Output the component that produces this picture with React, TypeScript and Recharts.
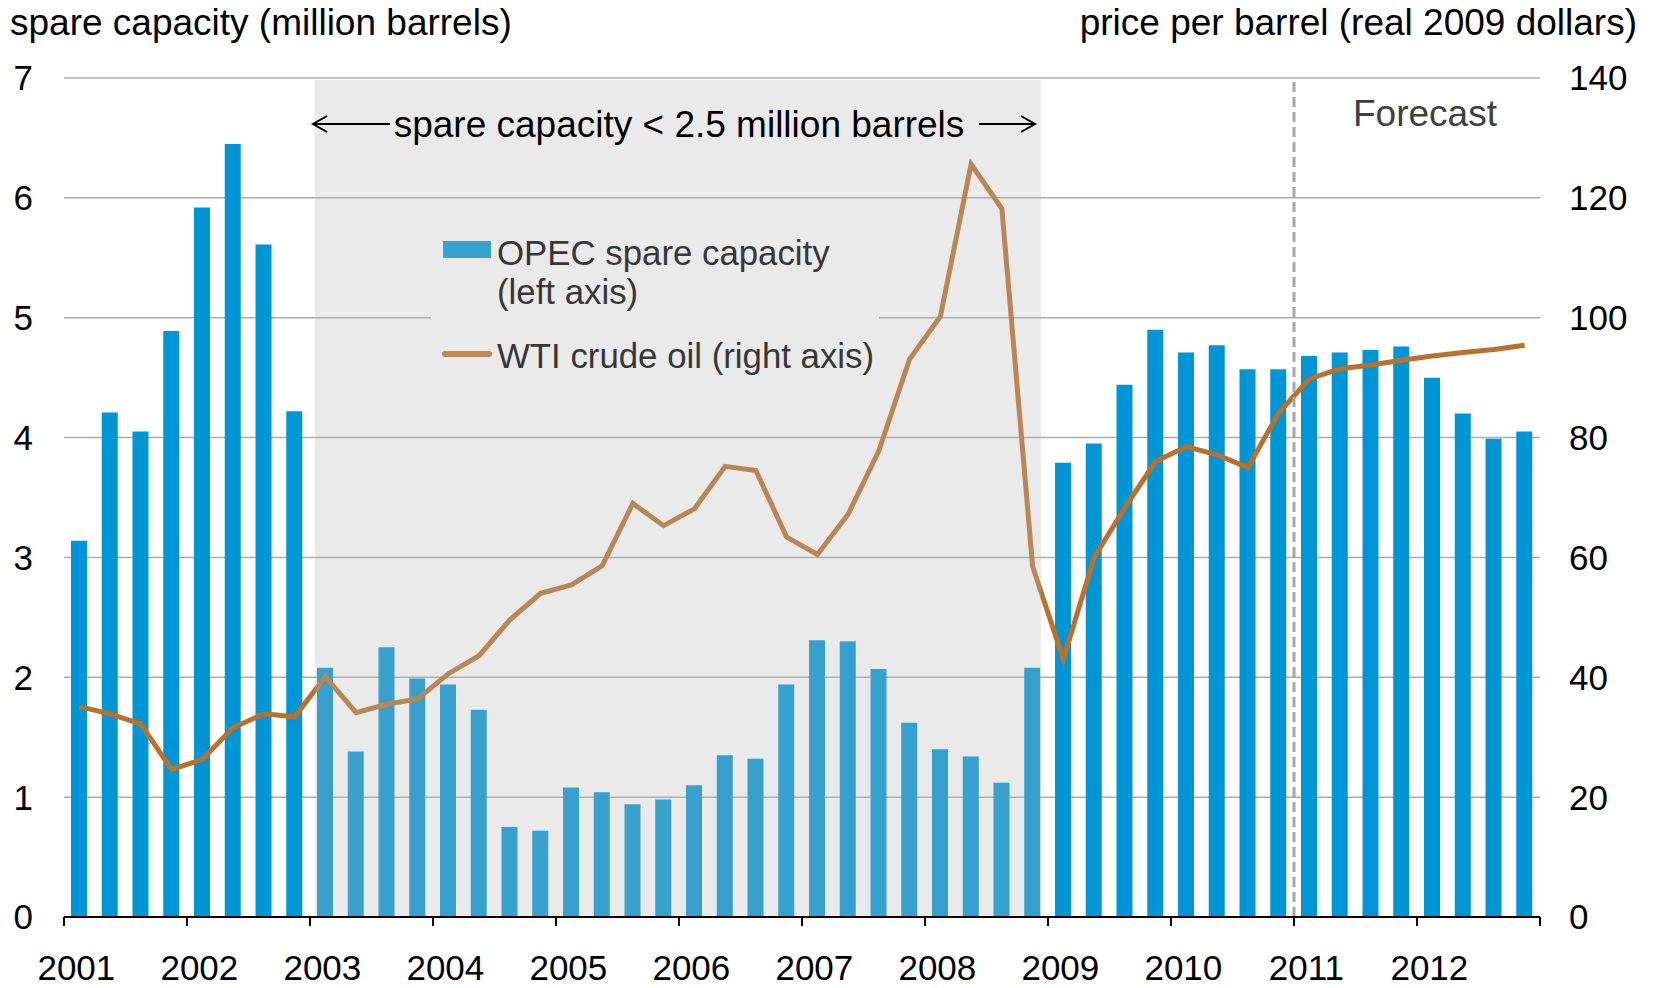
import {
  ComposedChart,
  Bar,
  Line,
  XAxis,
  YAxis,
  CartesianGrid,
  ReferenceArea,
  ReferenceLine,
  Legend,
} from 'recharts';

const years = ['2001', '2002', '2003', '2004', '2005', '2006', '2007', '2008', '2009', '2010', '2011', '2012'];
const quarters = years.flatMap((y) => ['Q1', 'Q2', 'Q3', 'Q4'].map((q) => y + q));

// OPEC spare capacity, million barrels (left axis)
const spareCapacity = [
  3.14, 4.21, 4.05, 4.89, 5.92, 6.45, 5.61, 4.22,
  2.08, 1.38, 2.25, 1.99, 1.94, 1.73, 0.75, 0.72,
  1.08, 1.04, 0.94, 0.98, 1.1, 1.35, 1.32, 1.94,
  2.31, 2.3, 2.07, 1.62, 1.4, 1.34, 1.12, 2.08,
  3.79, 3.95, 4.44, 4.9, 4.71, 4.77, 4.57, 4.57,
  4.68, 4.71, 4.73, 4.76, 4.5, 4.2, 3.99, 4.05,
];

// WTI crude oil, real 2009 dollars per barrel (right axis)
const wtiPrice = [
  35.1, 33.9, 32.2, 24.6, 26.3, 31.6, 33.9, 33.4,
  40.1, 34.1, 35.5, 36.4, 40.6, 43.6, 49.6, 54.0,
  55.4, 58.6, 69.0, 65.3, 68.1, 75.2, 74.5, 63.4,
  60.5, 67.2, 77.8, 93.1, 100.2, 125.6, 118.2, 58.5,
  43.0, 60.0, 68.3, 76.0, 78.5, 77.1, 75.0, 84.1,
  89.8, 91.5, 92.1, 92.9, 93.6, 94.2, 94.7, 95.4,
];

const leftTicks = [0, 1, 2, 3, 4, 5, 6, 7];
const rightTicks = [0, 20, 40, 60, 80, 100, 120, 140];
const yearTicks = years.map((y) => y + 'Q1');

const shadeStart = '2003Q1';
const shadeEnd = '2008Q4';
const forecastStart = '2011Q1';

const data = quarters.map((q, i) => ({ q, spare: spareCapacity[i], wti: wtiPrice[i] }));

const FONT = '"Liberation Sans", Arial, Helvetica, sans-serif';
const W = 1640;
const H = 980;
const PLOT_W = 1476;
const BAND = PLOT_W / quarters.length;

function YearTick(props: any) {
  const { x, y, payload } = props;
  const left = x - BAND / 2;
  const last = payload.value === yearTicks[yearTicks.length - 1];
  return (
    <g>
      <line x1={left} x2={left} y1={y} y2={y + 9} stroke="#000" strokeWidth={2} />
      {last && (
        <line x1={left + 4 * BAND} x2={left + 4 * BAND} y1={y} y2={y + 9} stroke="#000" strokeWidth={2} />
      )}
      <text x={x - 3} y={y + 63} textAnchor="middle" fontSize={35} fontFamily={FONT} fill="#000">
        {String(payload.value).slice(0, 4)}
      </text>
    </g>
  );
}

// shaded overlay sits just inside the band edges, like the original
function ShadeRect(props: any) {
  const { x, y, width, height } = props;
  return <rect x={x + 5} y={y + 2} width={width - 12} height={height - 2} fill="#B9B9B9" fillOpacity={0.3} />;
}

function ShadeLabel(props: any) {
  const { viewBox } = props;
  if (!viewBox) return null;
  const { x, y, width } = viewBox;
  const cx = x + width / 2;
  const cy = y + 46;
  const half = 287;
  const lTip = x + 3;
  const lTail = cx - half - 2;
  const rTail = cx + half + 13;
  const rTip = x + width - 13;
  return (
    <g>
      <line x1={lTip} x2={lTail} y1={cy} y2={cy} stroke="#000" strokeWidth={2} />
      <polyline points={`${lTip + 14},${cy - 8} ${lTip},${cy} ${lTip + 14},${cy + 8}`} fill="none" stroke="#000" strokeWidth={2} />
      <text x={cx} y={cy} dy="0.35em" textAnchor="middle" fontSize={37} fontFamily={FONT} fill="#000">
        spare capacity &lt; 2.5 million barrels
      </text>
      <line x1={rTail} x2={rTip} y1={cy} y2={cy} stroke="#000" strokeWidth={2} />
      <polyline points={`${rTip - 14},${cy - 8} ${rTip},${cy} ${rTip - 14},${cy + 8}`} fill="none" stroke="#000" strokeWidth={2} />
    </g>
  );
}

function ForecastLabel(props: any) {
  const { viewBox } = props;
  if (!viewBox) return null;
  return (
    <text x={viewBox.x + 59} y={viewBox.y + 35} dy="0.35em" fontSize={37} fontFamily={FONT} fill="#404040">
      Forecast
    </text>
  );
}

function LegendBox() {
  return (
    <div
      style={{
        width: 448,
        height: 225,
        background: '#EAEAEA',
        position: 'relative',
        fontFamily: FONT,
        fontSize: 34.8,
        color: '#373737',
      }}
    >
      <div style={{ position: 'absolute', left: 12, top: 36, width: 48, height: 17, background: '#37A2D0' }} />
      <div style={{ position: 'absolute', left: 66, top: 29, lineHeight: '38.7px', whiteSpace: 'nowrap' }}>
        OPEC spare capacity
        <br />
        (left axis)
      </div>
      <div
        style={{ position: 'absolute', left: 11, top: 146, width: 50, height: 6, borderRadius: 3, background: '#C08955' }}
      />
      <div style={{ position: 'absolute', left: 66, top: 132, lineHeight: '38.7px', whiteSpace: 'nowrap' }}>
        WTI crude oil (right axis)
      </div>
    </div>
  );
}

export default function App() {
  return (
    <div style={{ position: 'relative', width: W, height: H, fontFamily: FONT }}>
      <ComposedChart width={W} height={H} data={data} margin={{ top: 70, right: 0, bottom: 0, left: 0 }}>
        <CartesianGrid yAxisId="left" vertical={false} stroke="#ABABAB" strokeWidth={1.5} />
        <Bar yAxisId="left" dataKey="spare" fill="#0096D6" barSize={16} isAnimationActive={false} />
        <Line
          yAxisId="right"
          type="linear"
          dataKey="wti"
          stroke="#B9712C"
          strokeWidth={5}
          dot={false}
          isAnimationActive={false}
        />
        <ReferenceArea
          yAxisId="left"
          x1={shadeStart}
          x2={shadeEnd}
          y1={0}
          y2={7}
          fill="#B9B9B9"
          fillOpacity={0.3}
          stroke="none"
          zIndex={450}
          shape={ShadeRect}
          label={<ShadeLabel />}
        />
        <ReferenceLine
          yAxisId="left"
          x={forecastStart}
          position="start"
          stroke="#A6A6A6"
          strokeWidth={3}
          strokeDasharray="10 5"
          label={<ForecastLabel />}
        />
        <Legend
          layout="vertical"
          align="center"
          verticalAlign="middle"
          content={<LegendBox />}
          wrapperStyle={{ left: 423, top: 197, width: 448, height: 225 }}
        />
        <XAxis
          dataKey="q"
          ticks={yearTicks}
          interval={0}
          height={71}
          tickLine={false}
          tickSize={0}
          tickMargin={0}
          axisLine={{ stroke: '#000', strokeWidth: 2 }}
          tick={<YearTick />}
        />
        <YAxis
          yAxisId="left"
          domain={[0, 7]}
          ticks={leftTicks}
          width={56}
          axisLine={false}
          tickLine={false}
          tickSize={0}
          tickMargin={31}
          tick={{ fill: '#000', fontSize: 35, fontFamily: FONT }}
        />
        <YAxis
          yAxisId="right"
          orientation="right"
          domain={[0, 140]}
          ticks={rightTicks}
          width={108}
          axisLine={false}
          tickLine={false}
          tickSize={0}
          tickMargin={29}
          tick={{ fill: '#000', fontSize: 35, fontFamily: FONT, textAnchor: 'start' }}
        />
      </ComposedChart>
      <div
        style={{ position: 'absolute', left: 2, top: 0, fontSize: 37, lineHeight: '30px', color: '#000', whiteSpace: 'nowrap' }}
      >
        spare capacity (million barrels)
      </div>
      <div
        style={{ position: 'absolute', right: 11, top: 0, fontSize: 37, lineHeight: '30px', color: '#000', whiteSpace: 'nowrap' }}
      >
        price per barrel (real 2009 dollars)
      </div>
    </div>
  );
}
